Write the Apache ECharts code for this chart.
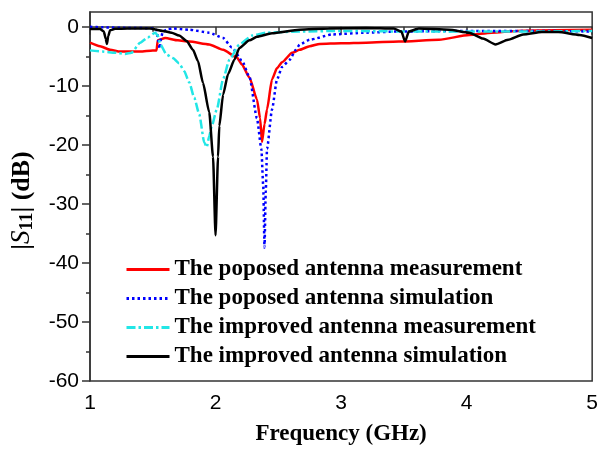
<!DOCTYPE html>
<html>
<head>
<meta charset="utf-8">
<script src="https://cdn.jsdelivr.net/npm/echarts/dist/echarts.min.js"></script>
<style>
html,body{margin:0;padding:0;background:#fff;}
#chart{width:601px;height:451px;}
</style>
</head>
<body>
<div id="chart"></div>
<script>
// Legend names
const seriesNames = [
  'The poposed antenna measurement',
  'The poposed antenna simulation',
  'The improved antenna measurement',
  'The improved antenna simulation'
];
// Tick labels
const xTicks = [1, 2, 3, 4, 5];
const yMajorTicks = [-60, -50, -40, -30, -20, -10, 0];
const yMinorTicks = [-55, -45, -35, -25, -15, -5];

// [frequency GHz, |S11| dB]
const proposedMeas = [
  [1.00,-2.7],[1.08,-3.3],[1.16,-3.9],[1.24,-4.2],[1.40,-4.2],[1.50,-4.0],[1.53,-4.0],[1.54,-2.3],
  [1.60,-1.9],[1.70,-2.3],[1.79,-2.5],[1.95,-3.0],[2.06,-3.9],[2.17,-5.2],[2.21,-6.4],[2.27,-8.6],
  [2.33,-12.3],[2.355,-15.5],[2.37,-19.5],[2.39,-16.5],[2.41,-14],[2.45,-8.9],[2.49,-7.0],[2.53,-6.0],
  [2.61,-4.4],[2.67,-3.9],[2.75,-3.3],[2.83,-2.9],[3.00,-2.8],[3.20,-2.7],[3.46,-2.5],[3.78,-2.2],
  [4.02,-1.4],[4.20,-1.0],[4.40,-0.7],[4.70,-0.6],[5.00,-0.5]
];
const proposedSim = [
  [1.00,0.0],[1.10,-0.1],[1.30,-0.2],[1.50,-0.25],[1.53,-0.5],[1.545,-2.5],[1.555,-3.7],[1.565,-2.0],
  [1.58,-0.8],[1.62,-0.4],[1.66,-0.3],[1.79,-0.5],[1.95,-1.0],[2.06,-1.9],[2.13,-3.5],[2.21,-5.7],
  [2.27,-8.5],[2.33,-15.5],[2.365,-20.7],[2.38,-27],[2.39,-37.4],[2.40,-28],[2.41,-20.7],[2.45,-14],
  [2.49,-8.9],[2.53,-6.8],[2.59,-5.6],[2.64,-3.9],[2.67,-3.0],[2.75,-2.2],[2.93,-1.3],[3.20,-1.0],
  [3.46,-0.8],[4.00,-0.7],[4.50,-0.7],[5.00,-0.8]
];
const improvedMeas = [
  [1.00,-4.0],[1.10,-4.2],[1.20,-4.4],[1.28,-4.6],[1.33,-4.4],[1.40,-2.7],[1.46,-1.8],[1.52,-1.0],
  [1.54,-1.5],[1.56,-3.0],[1.61,-4.7],[1.66,-5.3],[1.71,-6.2],[1.75,-7.5],[1.79,-9.4],[1.83,-12],
  [1.87,-14.8],[1.91,-19.6],[1.93,-20.4],[1.95,-18.5],[1.97,-16.8],[2.01,-14],[2.06,-8.9],[2.11,-5.6],
  [2.19,-3.0],[2.29,-1.5],[2.40,-1.0],[2.67,-0.8],[3.00,-0.7],[3.50,-0.8],[4.00,-0.8],[4.50,-0.8],
  [5.00,-0.7]
];
const improvedSim = [
  [1.00,-0.4],[1.08,-0.4],[1.11,-0.8],[1.125,-2.0],[1.135,-2.9],[1.145,-1.6],[1.16,-0.6],[1.20,-0.35],
  [1.30,-0.3],[1.48,-0.3],[1.58,-0.7],[1.65,-1.0],[1.71,-1.5],[1.77,-2.4],[1.82,-3.9],[1.86,-5.8],
  [1.90,-9.5],[1.95,-14.5],[1.98,-22],[2.00,-35.3],[2.02,-22],[2.03,-16.8],[2.06,-11.5],[2.10,-8.0],
  [2.15,-5.6],[2.19,-3.6],[2.27,-2.3],[2.33,-1.7],[2.45,-1.1],[2.67,-0.5],[2.90,-0.3],[3.20,-0.2],
  [3.42,-0.3],[3.48,-0.8],[3.51,-2.5],[3.54,-0.8],[3.62,-0.3],[3.86,-0.5],[4.02,-1.0],[4.13,-2.0],
  [4.23,-3.0],[4.33,-2.2],[4.45,-1.3],[4.60,-0.9],[4.73,-0.9],[4.90,-1.4],[5.00,-1.9]
];

const axisColor = '#333';
const chart = echarts.init(document.getElementById('chart'), null, {renderer: 'canvas'});
const mk = (name, data, color, type) => ({
  name: name, type: 'line', data: data, showSymbol: false, symbol: 'none',
  smooth: 0.2, smoothMonotone: 'x', animation: false, xAxisIndex: 0, yAxisIndex: 0,
  lineStyle: {color: color, width: 2.5, type: type}, itemStyle: {color: color}
});
chart.setOption({
  animation: false,
  backgroundColor: '#fff',
  grid: {left: 90, top: 12, width: 505, height: 372, show: true, borderColor: axisColor, borderWidth: 1.5, backgroundColor: 'transparent'},
  legend: {
    orient: 'vertical', left: 120, top: 253, itemWidth: 43, itemHeight: 14, itemGap: 6,
    data: seriesNames,
    itemStyle: {opacity: 0},
    lineStyle: {width: 3},
    textStyle: {fontFamily: 'Liberation Serif', fontWeight: 'bold', fontSize: 23, color: '#000'}
  },
  xAxis: [{
    type: 'value', min: 1, max: 5, interval: 1,
    axisLine: {show: true, lineStyle: {color: axisColor, width: 1.5}},
    axisTick: {show: true, inside: false, length: 8, lineStyle: {color: axisColor, width: 1.5}},
    minorTick: {show: true, splitNumber: 2, length: 5, lineStyle: {color: axisColor, width: 1.5}},
    splitLine: {show: false},
    axisLabel: {margin: 12, fontFamily: 'Liberation Sans', fontSize: 21, color: '#000',
      customValues: xTicks},
    name: 'Frequency (GHz)', nameLocation: 'middle', nameGap: 42,
    nameTextStyle: {fontFamily: 'Liberation Serif', fontWeight: 'bold', fontSize: 23, color: '#000'}
  }],
  yAxis: [{
    type: 'value', min: -60, max: 2.5, position: 'left',
    axisLine: {show: true, lineStyle: {color: axisColor, width: 1.5}},
    axisTick: {show: true, inside: false, length: 8, customValues: yMajorTicks, lineStyle: {color: axisColor, width: 1.5}},
    splitLine: {show: false},
    axisLabel: {margin: 11, fontFamily: 'Liberation Sans', fontSize: 21, color: '#000', customValues: yMajorTicks},
    name: '{a||}{s|S}{b|11}{a|| (dB)}', nameLocation: 'middle', nameGap: 53, nameRotate: 90,
    nameTextStyle: {
      color: '#000',
      padding: [0, 8, 0, 0],
      rich: {
        a: {fontFamily: 'Liberation Serif', fontWeight: 'bold', fontSize: 26, lineHeight: 30, color: '#000'},
        s: {fontFamily: 'Liberation Serif', fontStyle: 'italic', fontSize: 27, lineHeight: 30, color: '#000'},
        b: {fontFamily: 'Liberation Serif', fontWeight: 'bold', fontSize: 19, lineHeight: 22, verticalAlign: 'bottom', color: '#000'}
      }
    }
  }, {
    type: 'value', min: -60, max: 2.5, position: 'left',
    axisLine: {show: false},
    axisTick: {show: true, inside: false, length: 4, customValues: yMinorTicks, lineStyle: {color: axisColor, width: 1.5}},
    splitLine: {show: false},
    axisLabel: {show: false}
  }],
  series: [
    mk(seriesNames[0], proposedMeas, '#ff0000', 'solid'),
    mk(seriesNames[1], proposedSim, '#0000ff', [2.5, 3]),
    mk(seriesNames[2], improvedMeas, '#22e6e6', [9, 3, 2.5, 3]),
    mk(seriesNames[3], improvedSim, '#000000', 'solid')
  ]
});
</script>
</body>
</html>
